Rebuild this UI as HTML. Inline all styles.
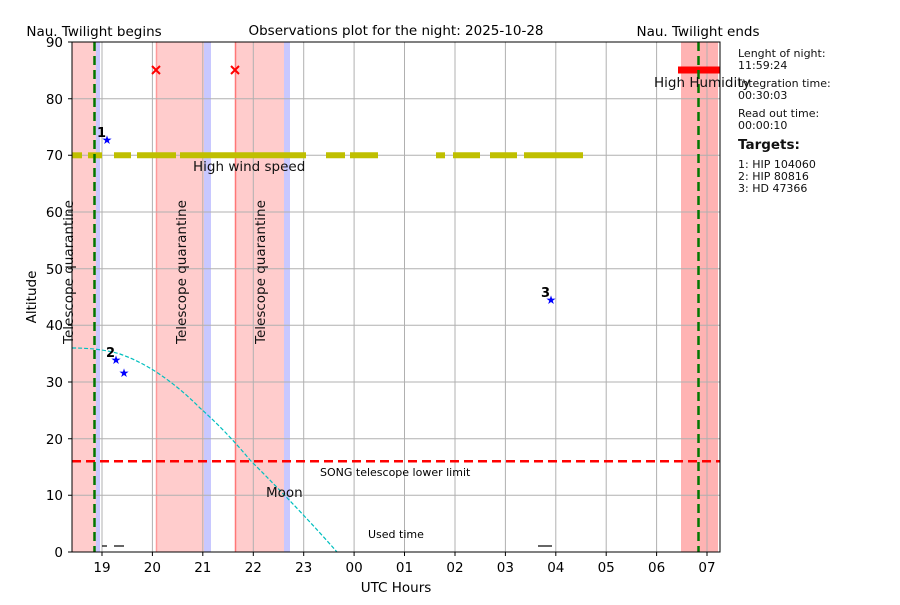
<!DOCTYPE html>
<html><head><meta charset="utf-8"><style>
body{margin:0;background:#fff;}
svg text{font-family:"DejaVu Sans","Liberation Sans",sans-serif;}
</style></head><body>
<svg width="900" height="600" xmlns="http://www.w3.org/2000/svg">
<rect width="900" height="600" fill="#fff"/>
<rect x="72" y="42" width="25" height="510" fill="#ffcccc"/>
<rect x="156" y="42" width="48" height="510" fill="#ffcccc"/>
<rect x="235" y="42" width="50" height="510" fill="#ffcccc"/>
<line x1="156.5" y1="42" x2="156.5" y2="552" stroke="#ff9999" stroke-width="1.5"/>
<line x1="235.5" y1="42" x2="235.5" y2="552" stroke="#ff7777" stroke-width="1.5"/>
<rect x="96" y="42" width="4" height="510" fill="#c8c8ff"/>
<rect x="204" y="42" width="7" height="510" fill="#c8c8ff"/>
<rect x="284" y="42" width="6" height="510" fill="#c8c8ff"/>
<rect x="681" y="42" width="37" height="510" fill="#ffb3b3"/>
<g stroke="#b0b0b0" stroke-width="1">
<line x1="102" y1="42" x2="102" y2="552"/><line x1="152.4" y1="42" x2="152.4" y2="552"/><line x1="202.8" y1="42" x2="202.8" y2="552"/><line x1="253.3" y1="42" x2="253.3" y2="552"/><line x1="303.7" y1="42" x2="303.7" y2="552"/><line x1="354.1" y1="42" x2="354.1" y2="552"/><line x1="404.5" y1="42" x2="404.5" y2="552"/><line x1="455" y1="42" x2="455" y2="552"/><line x1="505.4" y1="42" x2="505.4" y2="552"/><line x1="555.8" y1="42" x2="555.8" y2="552"/><line x1="606.2" y1="42" x2="606.2" y2="552"/><line x1="656.6" y1="42" x2="656.6" y2="552"/><line x1="707" y1="42" x2="707" y2="552"/>
<line x1="72" y1="98.7" x2="720" y2="98.7"/><line x1="72" y1="155.3" x2="720" y2="155.3"/><line x1="72" y1="212" x2="720" y2="212"/><line x1="72" y1="268.7" x2="720" y2="268.7"/><line x1="72" y1="325.3" x2="720" y2="325.3"/><line x1="72" y1="382" x2="720" y2="382"/><line x1="72" y1="438.7" x2="720" y2="438.7"/><line x1="72" y1="495.3" x2="720" y2="495.3"/>
</g>
<g stroke="#bfbf00" stroke-width="6">
<line x1="72" y1="155.3" x2="82" y2="155.3"/><line x1="88" y1="155.3" x2="102" y2="155.3"/><line x1="114" y1="155.3" x2="131" y2="155.3"/><line x1="137" y1="155.3" x2="176" y2="155.3"/><line x1="180" y1="155.3" x2="306" y2="155.3"/><line x1="326" y1="155.3" x2="345" y2="155.3"/><line x1="350" y1="155.3" x2="378" y2="155.3"/><line x1="436" y1="155.3" x2="445" y2="155.3"/><line x1="453" y1="155.3" x2="480" y2="155.3"/><line x1="490" y1="155.3" x2="517" y2="155.3"/><line x1="524" y1="155.3" x2="583" y2="155.3"/>
</g>
<g stroke="#ff0000" stroke-width="2">
<path d="M152,66 l8,8 M160,66 l-8,8 M231,66 l8,8 M239,66 l-8,8"/>
</g>
<rect x="678" y="66.5" width="42" height="7" fill="#ff0000"/>
<line x1="72" y1="461.3" x2="720" y2="461.3" stroke="#ff0000" stroke-width="2.5" stroke-dasharray="9,5"/>
<path d="M72,348 Q100,348 120,354 Q160,368 200,408 Q225,430 250,460 Q300,510 337,552" fill="none" stroke="#00bfbf" stroke-width="1.2" stroke-dasharray="4,2"/>
<line x1="94.5" y1="42" x2="94.5" y2="552" stroke="#007700" stroke-width="2.5" stroke-dasharray="9,5"/>
<line x1="698.5" y1="42" x2="698.5" y2="552" stroke="#007700" stroke-width="2.5" stroke-dasharray="9,5"/>
<g stroke="#000" stroke-width="1.2"><line x1="102" y1="546" x2="107" y2="546"/><line x1="114" y1="546" x2="124" y2="546"/><line x1="538" y1="546" x2="552" y2="546"/></g>
<g fill="#0000ff" font-size="12" text-anchor="middle"><text x="107" y="144">★</text><text x="116" y="364">★</text><text x="124" y="377">★</text><text x="551" y="304">★</text></g>
<g font-size="13" font-weight="bold"><text x="97" y="137">1</text><text x="106" y="357">2</text><text x="541" y="297">3</text></g>
<g font-size="13.5" fill="#111">
<text x="193" y="171">High wind speed</text>
<text x="654" y="87">High Humidity</text>
<text x="266" y="497">Moon</text>
<text transform="translate(73,344) rotate(-90)">Telescope quarantine</text>
<text transform="translate(186,344) rotate(-90)">Telescope quarantine</text>
<text transform="translate(265,344) rotate(-90)">Telescope quarantine</text>
</g>
<text x="320" y="476" font-size="11">SONG telescope lower limit</text>
<text x="368" y="538" font-size="11">Used time</text>
<rect x="72" y="42" width="648" height="510" fill="none" stroke="#000" stroke-width="1"/>
<g stroke="#000"><path d="M102,552v4M152.4,552v4M202.8,552v4M253.3,552v4M303.7,552v4M354.1,552v4M404.5,552v4M455,552v4M505.4,552v4M555.8,552v4M606.2,552v4M656.6,552v4M707,552v4M72,42h-4M72,98.7h-4M72,155.3h-4M72,212h-4M72,268.7h-4M72,325.3h-4M72,382h-4M72,438.7h-4M72,495.3h-4M72,552h-4"/></g>
<g font-size="13.5" fill="#000" text-anchor="middle">
<text x="102" y="572">19</text><text x="152.4" y="572">20</text><text x="202.8" y="572">21</text><text x="253.3" y="572">22</text><text x="303.7" y="572">23</text><text x="354.1" y="572">00</text><text x="404.5" y="572">01</text><text x="455" y="572">02</text><text x="505.4" y="572">03</text><text x="555.8" y="572">04</text><text x="606.2" y="572">05</text><text x="656.6" y="572">06</text><text x="707" y="572">07</text>
<text x="396" y="592">UTC Hours</text>
<text x="94" y="36">Nau. Twilight begins</text>
<text x="396" y="35">Observations plot for the night: 2025-10-28</text>
<text x="698" y="36">Nau. Twilight ends</text>
</g>
<g font-size="13.5" text-anchor="end">
<text x="63" y="47">90</text><text x="63" y="104">80</text><text x="63" y="160">70</text><text x="63" y="217">60</text><text x="63" y="274">50</text><text x="63" y="330">40</text><text x="63" y="387">30</text><text x="63" y="444">20</text><text x="63" y="500">10</text><text x="63" y="557">0</text>
</g>
<text transform="translate(36,297) rotate(-90)" font-size="13.5" text-anchor="middle">Altitude</text>
<g font-size="11" fill="#111">
<text x="738" y="57">Lenght of night:</text><text x="738" y="69">11:59:24</text>
<text x="738" y="87">Integration time:</text><text x="738" y="99">00:30:03</text>
<text x="738" y="117">Read out time:</text><text x="738" y="129">00:00:10</text>
<text x="738" y="149" font-size="13.5" font-weight="bold">Targets:</text>
<text x="738" y="168">1: HIP 104060</text><text x="738" y="180">2: HIP 80816</text><text x="738" y="192">3: HD 47366</text>
</g>
</svg>
</body></html>
